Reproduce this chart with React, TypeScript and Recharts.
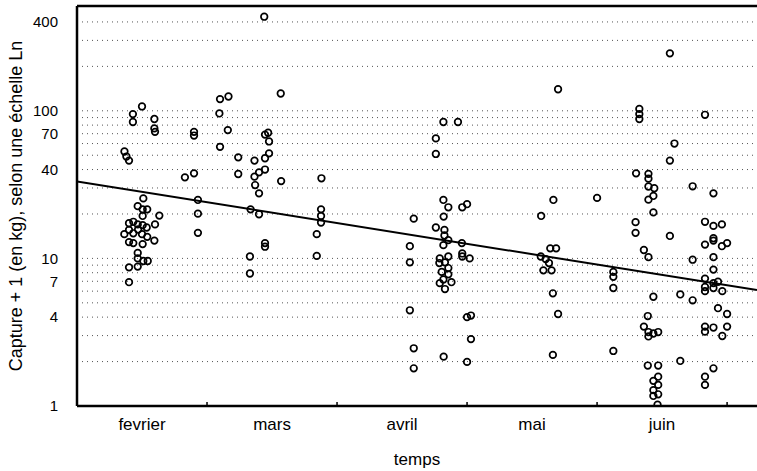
import { ComposedChart, Scatter, Line, XAxis, YAxis, CartesianGrid, ReferenceLine } from "recharts";

// t = time in months since start of february, v = capture + 1 (kg)
const fevrierPts: [number, number][] = [
  [0.5, 107], [0.43, 95], [0.43, 84], [0.595, 88], [0.595, 76], [0.6, 72],
  [0.365, 53], [0.38, 49], [0.4, 46],
  [0.51, 25.5], [0.467, 22.6], [0.505, 21.5], [0.54, 21.5], [0.505, 19.4], [0.633, 19.5],
  [0.4, 17.3], [0.433, 17.7], [0.467, 17.0], [0.505, 16.8], [0.6, 17.0],
  [0.364, 14.6], [0.4, 15.6], [0.433, 14.8], [0.47, 15.7], [0.5, 14.6], [0.536, 16.2], [0.54, 14.0],
  [0.4, 12.9], [0.433, 12.7], [0.505, 12.5], [0.595, 13.2],
  [0.467, 10.9], [0.467, 10.0], [0.51, 9.6], [0.544, 9.6], [0.4, 8.7], [0.467, 8.8], [0.4, 6.9],
  [0.83, 35.4], [0.9, 37.7], [0.9, 72], [0.9, 68], [0.93, 24.9], [0.93, 20.1], [0.93, 14.9],
];

const marsPts: [number, number][] = [
  [1.44, 434], [1.567, 131], [1.1, 120], [1.165, 125], [1.095, 96], [1.16, 74],
  [1.47, 71], [1.446, 69], [1.477, 62], [1.1, 57], [1.24, 48.4], [1.477, 51.5],
  [1.446, 47.7], [1.365, 46], [1.24, 37.3], [1.365, 35.8], [1.4, 38.3], [1.446, 40],
  [1.57, 33.4], [1.88, 34.9], [1.37, 31.4], [1.4, 27.6], [1.335, 21.5], [1.4, 19.9],
  [1.877, 21.5], [1.877, 19.4], [1.877, 17.5], [1.844, 14.6], [1.446, 12.7], [1.446, 12.0],
  [1.33, 10.3], [1.844, 10.4], [1.33, 7.9],
];

const avrilPts: [number, number][] = [
  [2.818, 84], [2.93, 84], [2.76, 65], [2.76, 51], [2.818, 24.9], [2.856, 22.2],
  [2.963, 22.2], [3.0, 23.3], [2.59, 18.6], [2.82, 19.2], [2.76, 16.2], [2.826, 15.6],
  [2.826, 14.3], [2.818, 12.3], [2.856, 13.3], [2.96, 12.7], [2.963, 10.8], [2.963, 10.3],
  [3.02, 10.0], [2.56, 12.1], [2.56, 9.4], [2.79, 10.0], [2.856, 10.3], [2.787, 9.3],
  [2.83, 9.4], [2.856, 8.6], [2.805, 8.1], [2.856, 7.8], [2.818, 7.2], [2.79, 6.8],
  [2.88, 6.9], [2.83, 6.2], [2.56, 4.45], [3.0, 4.0], [3.03, 4.1], [3.03, 2.84],
  [2.59, 2.46], [2.82, 2.16], [3.0, 1.99], [2.59, 1.8],
];

const maiPts: [number, number][] = [
  [3.7, 140], [3.664, 24.9], [3.57, 19.4], [3.64, 11.7], [3.685, 11.7], [3.567, 10.3],
  [3.605, 9.9], [3.63, 9.3], [3.587, 8.3], [3.65, 8.3], [3.66, 5.8], [3.7, 4.2],
  [3.66, 2.22], [4.0, 25.7], [4.125, 8.1], [4.125, 7.5], [4.125, 6.3], [4.125, 2.36],
];

const juinPts: [number, number][] = [
  [4.56, 245], [4.325, 103], [4.325, 95], [4.325, 88], [4.83, 94], [4.595, 60], [4.56, 46],
  [4.3, 37.7], [4.395, 37.4], [4.395, 34.7], [4.735, 30.8], [4.895, 27.6], [4.395, 30.7],
  [4.44, 29.9], [4.433, 26.5], [4.395, 25], [4.433, 20.5], [4.296, 17.6], [4.296, 14.9],
  [4.83, 17.7], [4.895, 16.6], [4.96, 17.0], [4.56, 14.2], [4.895, 13.7], [4.83, 12.4],
  [4.895, 13.2], [4.96, 12.1], [5.0, 12.7], [4.36, 11.4], [4.395, 10.2], [4.735, 9.8],
  [4.895, 10.2], [4.895, 8.4], [4.83, 7.3], [4.895, 6.8], [4.93, 6.95], [4.83, 6.4],
  [4.83, 6.0], [4.895, 6.3], [4.963, 6.0], [4.64, 5.7], [4.735, 5.2], [4.433, 5.5],
  [4.93, 4.6], [5.0, 4.2], [4.39, 4.07], [4.36, 3.45], [4.395, 3.17], [4.433, 3.1],
  [4.47, 3.17], [4.395, 2.96], [4.83, 3.45], [4.83, 3.19], [4.895, 3.4], [5.0, 3.45],
  [4.963, 2.98], [4.64, 2.02], [4.39, 1.88], [4.47, 1.88], [4.895, 1.8], [4.47, 1.58],
  [4.433, 1.48], [4.47, 1.39], [4.433, 1.28], [4.47, 1.2], [4.433, 1.17], [4.465, 1.02],
  [4.83, 1.58], [4.83, 1.39],
];

// fitted regression line, end points
const trend = [
  { t: 0, v: 33.2 },
  { t: 5.23, v: 6.1 },
];

const monthNames = ["fevrier", "mars", "avril", "mai", "juin"];
const monthCenters = [0.5, 1.5, 2.5, 3.5, 4.5];
const monthBounds = [1, 2, 3, 4, 5];
const xTicks = [...monthCenters, ...monthBounds].sort((a, b) => a - b);

const yTicks = [1, 2, 3, 4, 5, 6, 7, 8, 9, 10, 20, 30, 40, 50, 60, 70, 80, 90, 100, 200, 300, 400];
const yLabelled = [1, 4, 7, 10, 40, 70, 100, 400];
const yMax = 513;

const allPts = [...fevrierPts, ...marsPts, ...avrilPts, ...maiPts, ...juinPts].map(([t, v]) => ({ t, v }));

const font = "'Liberation Sans', Arial, sans-serif";
const TICK_GAP = 11;

const Ring = (props: any) => {
  const { cx, cy } = props;
  if (cx == null || cy == null) return null;
  return <circle cx={cx} cy={cy} r={3.3} fill="none" stroke="#000" strokeWidth={1.7} />;
};

// month names at the centres, small inward marks at the month boundaries
const MonthTick = (props: any) => {
  const { x, y, payload } = props;
  const v = payload.value;
  if (monthBounds.includes(v)) {
    const axisY = y - TICK_GAP;
    return <line x1={x} x2={x} y1={axisY} y2={axisY - 4} stroke="#000" strokeWidth={1.5} />;
  }
  const name = monthNames[monthCenters.indexOf(v)] ?? "";
  return (
    <text x={x} y={y} dy="0.75em" textAnchor="middle" fill="#000" fontSize={17} fontFamily={font}>
      {name}
    </text>
  );
};

export default function App() {
  return (
    <div style={{ position: "absolute", left: 0, top: 0, background: "#fff" }}>
      <ComposedChart
        width={757}
        height={471}
        margin={{ top: 6, right: 0, bottom: 0, left: 0 }}
        style={{ fontFamily: font }}
      >
        <CartesianGrid
          vertical={false}
          stroke="#555"
          strokeDasharray="1 4"
        />
        <XAxis
          type="number"
          dataKey="t"
          domain={[0, 5.23]}
          ticks={xTicks}
          height={65}
          allowDataOverflow
          interval={0}
          tickLine={false}
          tickSize={0}
          tickMargin={TICK_GAP}
          axisLine={{ stroke: "#000", strokeWidth: 2.5 }}
          tick={<MonthTick />}
          label={{ value: "temps", position: "insideBottom", offset: 6, fill: "#000", fontSize: 17, fontFamily: font }}
        />
        <YAxis
          type="number"
          dataKey="v"
          scale="log"
          domain={[1, yMax]}
          allowDataOverflow
          ticks={yTicks}
          interval={0}
          width={77}
          axisLine={{ stroke: "#000", strokeWidth: 2.5 }}
          tickLine={false}
          tickMargin={13}
          tick={{ fill: "#000", fontSize: 15, fontFamily: font }}
          tickFormatter={(v: number) => (yLabelled.includes(v) ? String(v) : "")}
          label={{
            value: "Capture + 1 (en kg), selon une échelle Ln",
            angle: -90,
            position: "insideLeft",
            offset: 16,
            style: { textAnchor: "middle" },
            fill: "#000",
            fontSize: 18,
            fontFamily: font,
          }}
        />
        <ReferenceLine y={yMax} stroke="#000" strokeWidth={2.5} />
        <Scatter data={allPts} dataKey="v" shape={Ring} isAnimationActive={false} />
        <Line
          data={trend}
          dataKey="v"
          stroke="#000"
          strokeWidth={2}
          dot={false}
          isAnimationActive={false}
        />
      </ComposedChart>
    </div>
  );
}
